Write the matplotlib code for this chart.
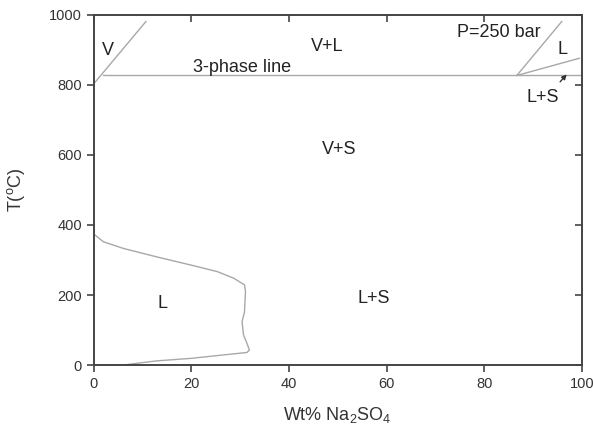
import matplotlib
matplotlib.use("Agg")
import matplotlib.pyplot as plt

plt.rcParams['font.family'] = ['Liberation Sans', 'DejaVu Sans']
plt.rcParams['mathtext.fontset'] = 'custom'
plt.rcParams['mathtext.rm'] = 'Liberation Sans'
plt.rcParams['mathtext.it'] = 'Liberation Sans'

# Liquid (L) boundary, lower-left region
l_wt = [0.3, 2, 6.1, 12.9, 19.8, 25.3, 28.7, 30.9, 31.1, 30.9, 30.4, 30.7, 31.4, 31.9, 31.4, 26.6, 19.8, 12.9, 8.8, 6.1]
l_T = [371, 352, 333, 309, 286, 267, 248, 229, 210, 152, 124, 86, 62, 43, 36, 29, 19, 12, 5, 0]

# Vapour boundary (upper-left)
v_wt = [0, 10.7]
v_T = [803, 981]

# Three-phase line
tp_wt = [2, 100]
tp_T = [827, 827]

# Upper-right liquid boundaries
r1_wt = [86.7, 95.9]
r1_T = [827, 981]
r2_wt = [86.7, 99.5]
r2_T = [827, 876]

xticks = [0, 20, 40, 60, 80, 100]
yticks = [0, 200, 400, 600, 800, 1000]

fig = plt.figure(figsize=(5.93, 4.25), dpi=100)
ax = fig.add_axes([0.158, 0.141, 0.823, 0.824])

lc = '#a8a8a8'
ax.plot(l_wt, l_T, color=lc, lw=1.0)
ax.plot(v_wt, v_T, color=lc, lw=1.0)
ax.plot(tp_wt, tp_T, color=lc, lw=1.0)
ax.plot(r1_wt, r1_T, color=lc, lw=1.0)
ax.plot(r2_wt, r2_T, color=lc, lw=1.0)

ax.annotate('', xy=(97.3, 836), xytext=(95.2, 803),
            arrowprops=dict(arrowstyle='-|>', color='#333333', lw=1.0, mutation_scale=7))

tc = '#222222'
fs = 13
ax.text(3, 898, 'V', fontsize=fs, color=tc, ha='center', va='center')
ax.text(30.4, 850, '3-phase line', fontsize=fs, color=tc, ha='center', va='center')
ax.text(47.8, 910, 'V+L', fontsize=fs, color=tc, ha='center', va='center')
ax.text(83.0, 950, 'P=250 bar', fontsize=fs, color=tc, ha='center', va='center')
ax.text(96.1, 900, 'L', fontsize=fs, color=tc, ha='center', va='center')
ax.text(92.1, 763, 'L+S', fontsize=fs, color=tc, ha='center', va='center')
ax.text(50.4, 616, 'V+S', fontsize=fs, color=tc, ha='center', va='center')
ax.text(57.4, 190, 'L+S', fontsize=fs, color=tc, ha='center', va='center')
ax.text(14, 175, 'L', fontsize=fs, color=tc, ha='center', va='center')

ax.set_xlim(0, 100)
ax.set_ylim(0, 1000)
ax.set_xticks(xticks)
ax.set_yticks(yticks)

sc = '#444444'
for s in ax.spines.values():
    s.set_color(sc)
    s.set_linewidth(1.4)
ax.tick_params(axis='both', which='major', direction='out', length=5, width=1.2,
               color=sc, labelsize=10.5, labelcolor='#333333')
ax.tick_params(top=True, right=True)
for t in ax.xaxis.get_major_ticks():
    t.tick2line.set_marker(3)  # inward at top
for t in ax.yaxis.get_major_ticks():
    t.tick2line.set_marker(0)  # inward at right

ax.set_xlabel('Wt% Na$_2$SO$_4$', fontsize=13, color='#333333', labelpad=10)
ax.set_ylabel('T($^{\\mathrm{o}}$C)', fontsize=13, color='#333333', labelpad=16)

fig.savefig('out.png', dpi=100)
